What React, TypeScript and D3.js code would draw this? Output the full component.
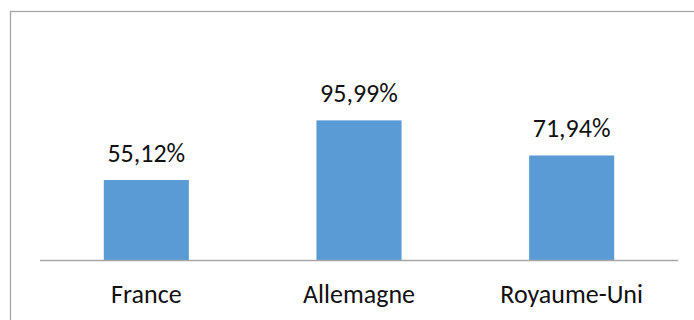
import React from "react";
import * as d3 from "d3";

const categories: string[] = ["France", "Allemagne", "Royaume-Uni"];
const values: number[] = [55.12, 95.99, 71.94];
const valueLabels: string[] = ["55,12%", "95,99%", "71,94%"];

const W = 694;
const H = 320;
const FONT = "Carlito, Calibri, Lato, sans-serif";

export default function App() {
  const x = d3
    .scaleBand<string>()
    .domain(categories)
    .range([40, 678])
    .paddingInner(0.6)
    .paddingOuter(0.3);
  const y = d3.scaleLinear().domain([0, 100]).range([260.5, 114.5]);

  return (
    <svg
      width={W}
      height={H}
      style={{ position: "absolute", left: 0, top: 0, background: "#fff" }}
    >
      <rect x={0} y={0} width={W} height={H} fill="#fff" />
      <rect
        x={10.5}
        y={11.5}
        width={W + 20}
        height={H + 20}
        fill="none"
        stroke="#a6a6a6"
        strokeWidth={1.3}
      />
      {categories.map((c, i) => (
        <rect
          key={c}
          x={x(c)!}
          y={y(values[i])}
          width={x.bandwidth()}
          height={y(0) - y(values[i])}
          fill="#5b9bd5"
        />
      ))}
      <line
        x1={40}
        x2={678}
        y1={y(0)}
        y2={y(0)}
        stroke="#a6a6a6"
        strokeWidth={1.3}
      />
      {categories.map((c, i) => (
        <text
          key={"v" + c}
          x={x(c)! + x.bandwidth() / 2}
          y={y(values[i]) - 18.5}
          textAnchor="middle"
          fontFamily={FONT}
          fontSize={26}
          fill="#111"
        >
          {valueLabels[i]}
        </text>
      ))}
      {categories.map((c) => (
        <text
          key={"c" + c}
          x={x(c)! + x.bandwidth() / 2}
          y={303}
          textAnchor="middle"
          fontFamily={FONT}
          fontSize={26}
          fill="#111"
        >
          {c}
        </text>
      ))}
    </svg>
  );
}
